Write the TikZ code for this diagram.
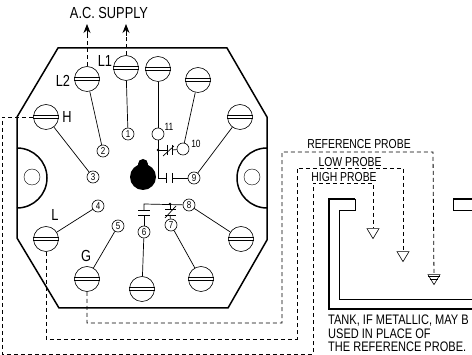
\documentclass[tikz,border=0pt]{standalone}
\usepackage{fontspec}
\setmainfont[FakeStretch=0.8]{Liberation Sans}
\usetikzlibrary{arrows.meta, calc, shapes.geometric}
\tikzstyle{terminal} = [circle, draw=black, fill=white, line width=0.6pt, minimum size=25pt, inner sep=0pt]
\tikzstyle{pin} = [circle, draw=black, fill=white, line width=0.6pt, minimum size=12pt, inner sep=0pt, font=\fontsize{10}{10}\selectfont]
\tikzstyle{tag} = [inner sep=0pt, font=\fontsize{16}{16}\selectfont]
\tikzstyle{small} = [inner sep=0pt, font=\fontsize{10.5}{10.5}\selectfont]
\tikzstyle{probetext} = [inner sep=0pt, font=\fontsize{13}{13}\selectfont]
\tikzstyle{tanktext} = [inner sep=0pt, anchor=west, font=\fontsize{13.8}{13.8}\selectfont]
\tikzstyle{wire} = [line width=0.7pt]
\tikzstyle{dashwire} = [line width=0.8pt, dash pattern=on 4pt off 3pt]
\tikzstyle{probe} = [isosceles triangle, isosceles triangle apex angle=62, shape border rotate=-90, draw=black, fill=white, line width=0.6pt, minimum height=9pt, minimum width=12pt, inner sep=0pt]
\tikzstyle{arrow} = [line width=0.8pt,-{Stealth[length=9pt,width=7pt]}]
\begin{document}
\begin{tikzpicture}[x=1pt, y=-1pt]
    \useasboundingbox (0,0) rectangle (472,355);

    % Housing
    \draw[line width=1.5pt, line join=miter] (58,48) -- (227,48) -- (267,117) -- (267,240) -- (228,308)
        -- (59,308) -- (17,238) -- (17,117) -- cycle;
    \draw[line width=1.5pt] (17,148) arc[start angle=-90, end angle=90, radius=30];
    \draw[line width=1.5pt] (267,148) arc[start angle=-90, end angle=-270, radius=30];
    \node[circle, draw, minimum size=16pt, inner sep=0pt] (leftkey) at (32,177) {};
    \node[circle, draw, minimum size=16pt, inner sep=0pt] (rightkey) at (252,177) {};
    \fill (143,177) circle (13) (143,164) circle (5);

    % Terminals
    \foreach \name/\x/\y in {ltwo/87/79, lone/126/68, top/158/69, topright/198/80, right/240/117,
        high/46/117, low/46/239, gnd/87/279, bot/142/289, botright/201/279, lowright/241/239} {
        \node[terminal] (\name) at (\x,\y) {};
        \draw[line width=0.8pt] ($(\name.west)+(0,-1.6)$) -- ($(\name.east)+(0,-1.6)$);
        \draw[line width=0.8pt] ($(\name.west)+(0,1.6)$) -- ($(\name.east)+(0,1.6)$);
    }

    % Numbered points
    \node[pin] (p1) at (128,134) {1};
    \node[pin] (p2) at (103,151) {2};
    \node[pin] (p3) at (93,177) {3};
    \node[pin] (p4) at (98,206) {4};
    \node[pin] (p5) at (118,226) {5};
    \node[pin] (p6) at (144,232) {6};
    \node[pin] (p7) at (171,225) {7};
    \node[pin] (p8) at (189,205) {8};
    \node[pin] (p9) at (194,178) {9};
    \node[pin] (p10) at (183,149) {};
    \node[pin] (p11) at (158,134) {};
    \node[small] (n10) at (196,144) {10};
    \node[small] (n11) at (169,127) {11};

    % Connections
    \draw[wire] (lone) -- (p1);
    \draw[wire] (ltwo) -- (p2);
    \draw[wire] (high) -- (p3);
    \draw[wire] (low) -- (p4);
    \draw[wire] (gnd) -- (p5);
    \draw[wire] (bot) -- (p6);
    \draw[wire] (botright) -- (p7);
    \draw[wire] (lowright) -- (p8);
    \draw[wire] (right) -- (p9);
    \draw[wire] (topright) -- (p10);
    \draw[wire] (top) -- (p11);

    % Contacts
    \coordinate (sw10) at (158,150);
    \coordinate (sw9) at (158,178);
    \draw[wire] (p11) -- (sw9) -- (166,178);
    \draw[wire] (172,178) -- (p9);
    \draw[wire] (166,173) -- (166,183);
    \draw[wire] (172,173) -- (172,183);
    \fill (sw10) circle (1.3);
    \draw[wire] (sw10) -- (167,150);
    \draw[wire] (172,150) -- (p10);
    \draw[wire] (167,145) -- (167,155);
    \draw[wire] (172,145) -- (172,155);
    \draw[wire] (163,156) -- (174,146);

    \coordinate (sw6) at (144,204);
    \coordinate (sw7) at (170,204);
    \draw[wire] (p8) -- (sw6) -- (144,210);
    \draw[wire] (p6) -- (144,215);
    \draw[wire] (138,210) -- (150,210);
    \draw[wire] (138,215) -- (150,215);
    \fill (sw7) circle (1.3);
    \draw[wire] (sw7) -- (170,209);
    \draw[wire] (p7) -- (170,215);
    \draw[wire] (165,209) -- (176,209);
    \draw[wire] (165,215) -- (176,215);
    \draw[wire] (165,218) -- (176,206);

    % Supply
    \node[tag] (supply) at (109,13) {A.C. SUPPLY};
    \coordinate (supplytwo) at (87,24);
    \coordinate (supplyone) at (126,24);
    \draw[dashwire] (ltwo) -- (87,36);
    \draw[dashwire] (lone) -- (126,36);
    \draw[arrow] (87,36) -- (supplytwo);
    \draw[arrow] (126,36) -- (supplyone);

    % Labels
    \node[tag] (tl1) at (105,61) {L1};
    \node[tag] (tl2) at (63,81) {L2};
    \node[tag] (th) at (67,117) {H};
    \node[tag] (tl) at (55,215) {L};
    \node[tag] (tg) at (86,256) {G};

    % Tank
    \draw[line width=1.5pt] (355,199) -- (329,199) -- (329,309) -- (472,309);
    \draw[line width=1.5pt] (472,199) -- (453,199);
    \draw[wire] (355,199) -- (355,210) -- (339,210) -- (339,299) -- (472,299);
    \draw[wire] (453,199) -- (453,210) -- (472,210);

    % Probes
    \node[probe] (phigh) at (373,232) {};
    \node[probe] (plow) at (403,255) {};
    \node[probe] (pref) at (434,278) {};
    \draw[wire] (428,276) -- (440,276);
    \draw[wire] (430,279) -- (438,279);

    \node[probetext] (lref) at (359,144) {REFERENCE PROBE};
    \node[probetext] (llow) at (350,162) {LOW PROBE};
    \node[probetext] (lhigh) at (344,177) {HIGH PROBE};

    \draw[dashwire] (high) -- (2,117) -- (2,354) -- (313,354) -- (313,183) -- (373,183) -- (phigh);
    \draw[dashwire] (low) -- (46,339) -- (297,339) -- (297,168) -- (403,168) -- (plow);
    \draw[dashwire] (gnd) -- (87,323) -- (282,323) -- (282,152) -- (433,152) -- (pref);

    \node[tanktext] (tank1) at (328,321) {TANK, IF METALLIC, MAY B};
    \node[tanktext] (tank2) at (328,334) {USED IN PLACE OF};
    \node[tanktext] (tank3) at (328,347) {THE REFERENCE PROBE.};
\end{tikzpicture}
\end{document}
